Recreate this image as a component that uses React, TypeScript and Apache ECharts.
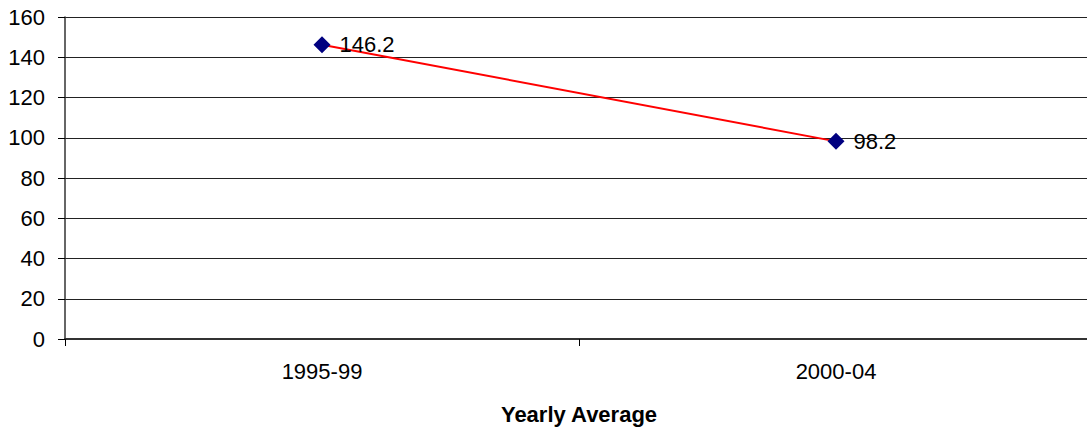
import React, { useEffect, useRef } from "react";
import * as echarts from "echarts";

const categories = ["1995-99", "2000-04"];
const values = [146.2, 98.2];
const axisName = "Yearly Average";

export default function App() {
  const ref = useRef<HTMLDivElement>(null);
  useEffect(() => {
    if (!ref.current) return;
    const chart = echarts.init(ref.current, undefined, { renderer: "svg" });
    const font = "Liberation Sans, Arial, sans-serif";
    chart.setOption({
      animation: false,
      backgroundColor: "#ffffff",
      grid: { left: 65, top: 17, width: 1028, height: 322, outerBoundsMode: "none", containLabel: false },
      xAxis: {
        type: "category",
        data: categories,
        boundaryGap: true,
        name: axisName,
        nameLocation: "middle",
        nameGap: 64,
        nameTextStyle: { fontFamily: font, fontSize: 22, fontWeight: "bold", color: "#000" },
        axisLine: { lineStyle: { color: "#333", width: 2 } },
        axisTick: { show: true, length: 7, alignWithLabel: false, lineStyle: { color: "#000", width: 1 } },
        axisLabel: { fontFamily: font, fontSize: 22, color: "#000", margin: 21 },
        splitLine: { show: false },
      },
      yAxis: {
        type: "value",
        min: 0,
        max: 160,
        interval: 20,
        axisLine: { show: true, lineStyle: { color: "#333", width: 1.5 } },
        axisTick: { show: true, length: 7, lineStyle: { color: "#000", width: 1 } },
        axisLabel: { fontFamily: font, fontSize: 22, color: "#000", margin: 20 },
        splitLine: { show: true, lineStyle: { color: "#222", width: 1 } },
      },
      series: [
        {
          type: "line",
          data: values,
          symbol: "diamond",
          symbolSize: 17,
          itemStyle: { color: "#000080" },
          lineStyle: { color: "#ff0000", width: 2 },
          label: {
            show: true,
            position: "right",
            distance: 9,
            fontFamily: font,
            fontSize: 22,
            color: "#000",
            formatter: (p: any) => p.value.toFixed(1),
          },
          z: 3,
        },
      ],
    });
    return () => chart.dispose();
  }, []);
  return <div ref={ref} style={{ width: 1087, height: 430, position: "absolute", left: 0, top: 0 }} />;
}
